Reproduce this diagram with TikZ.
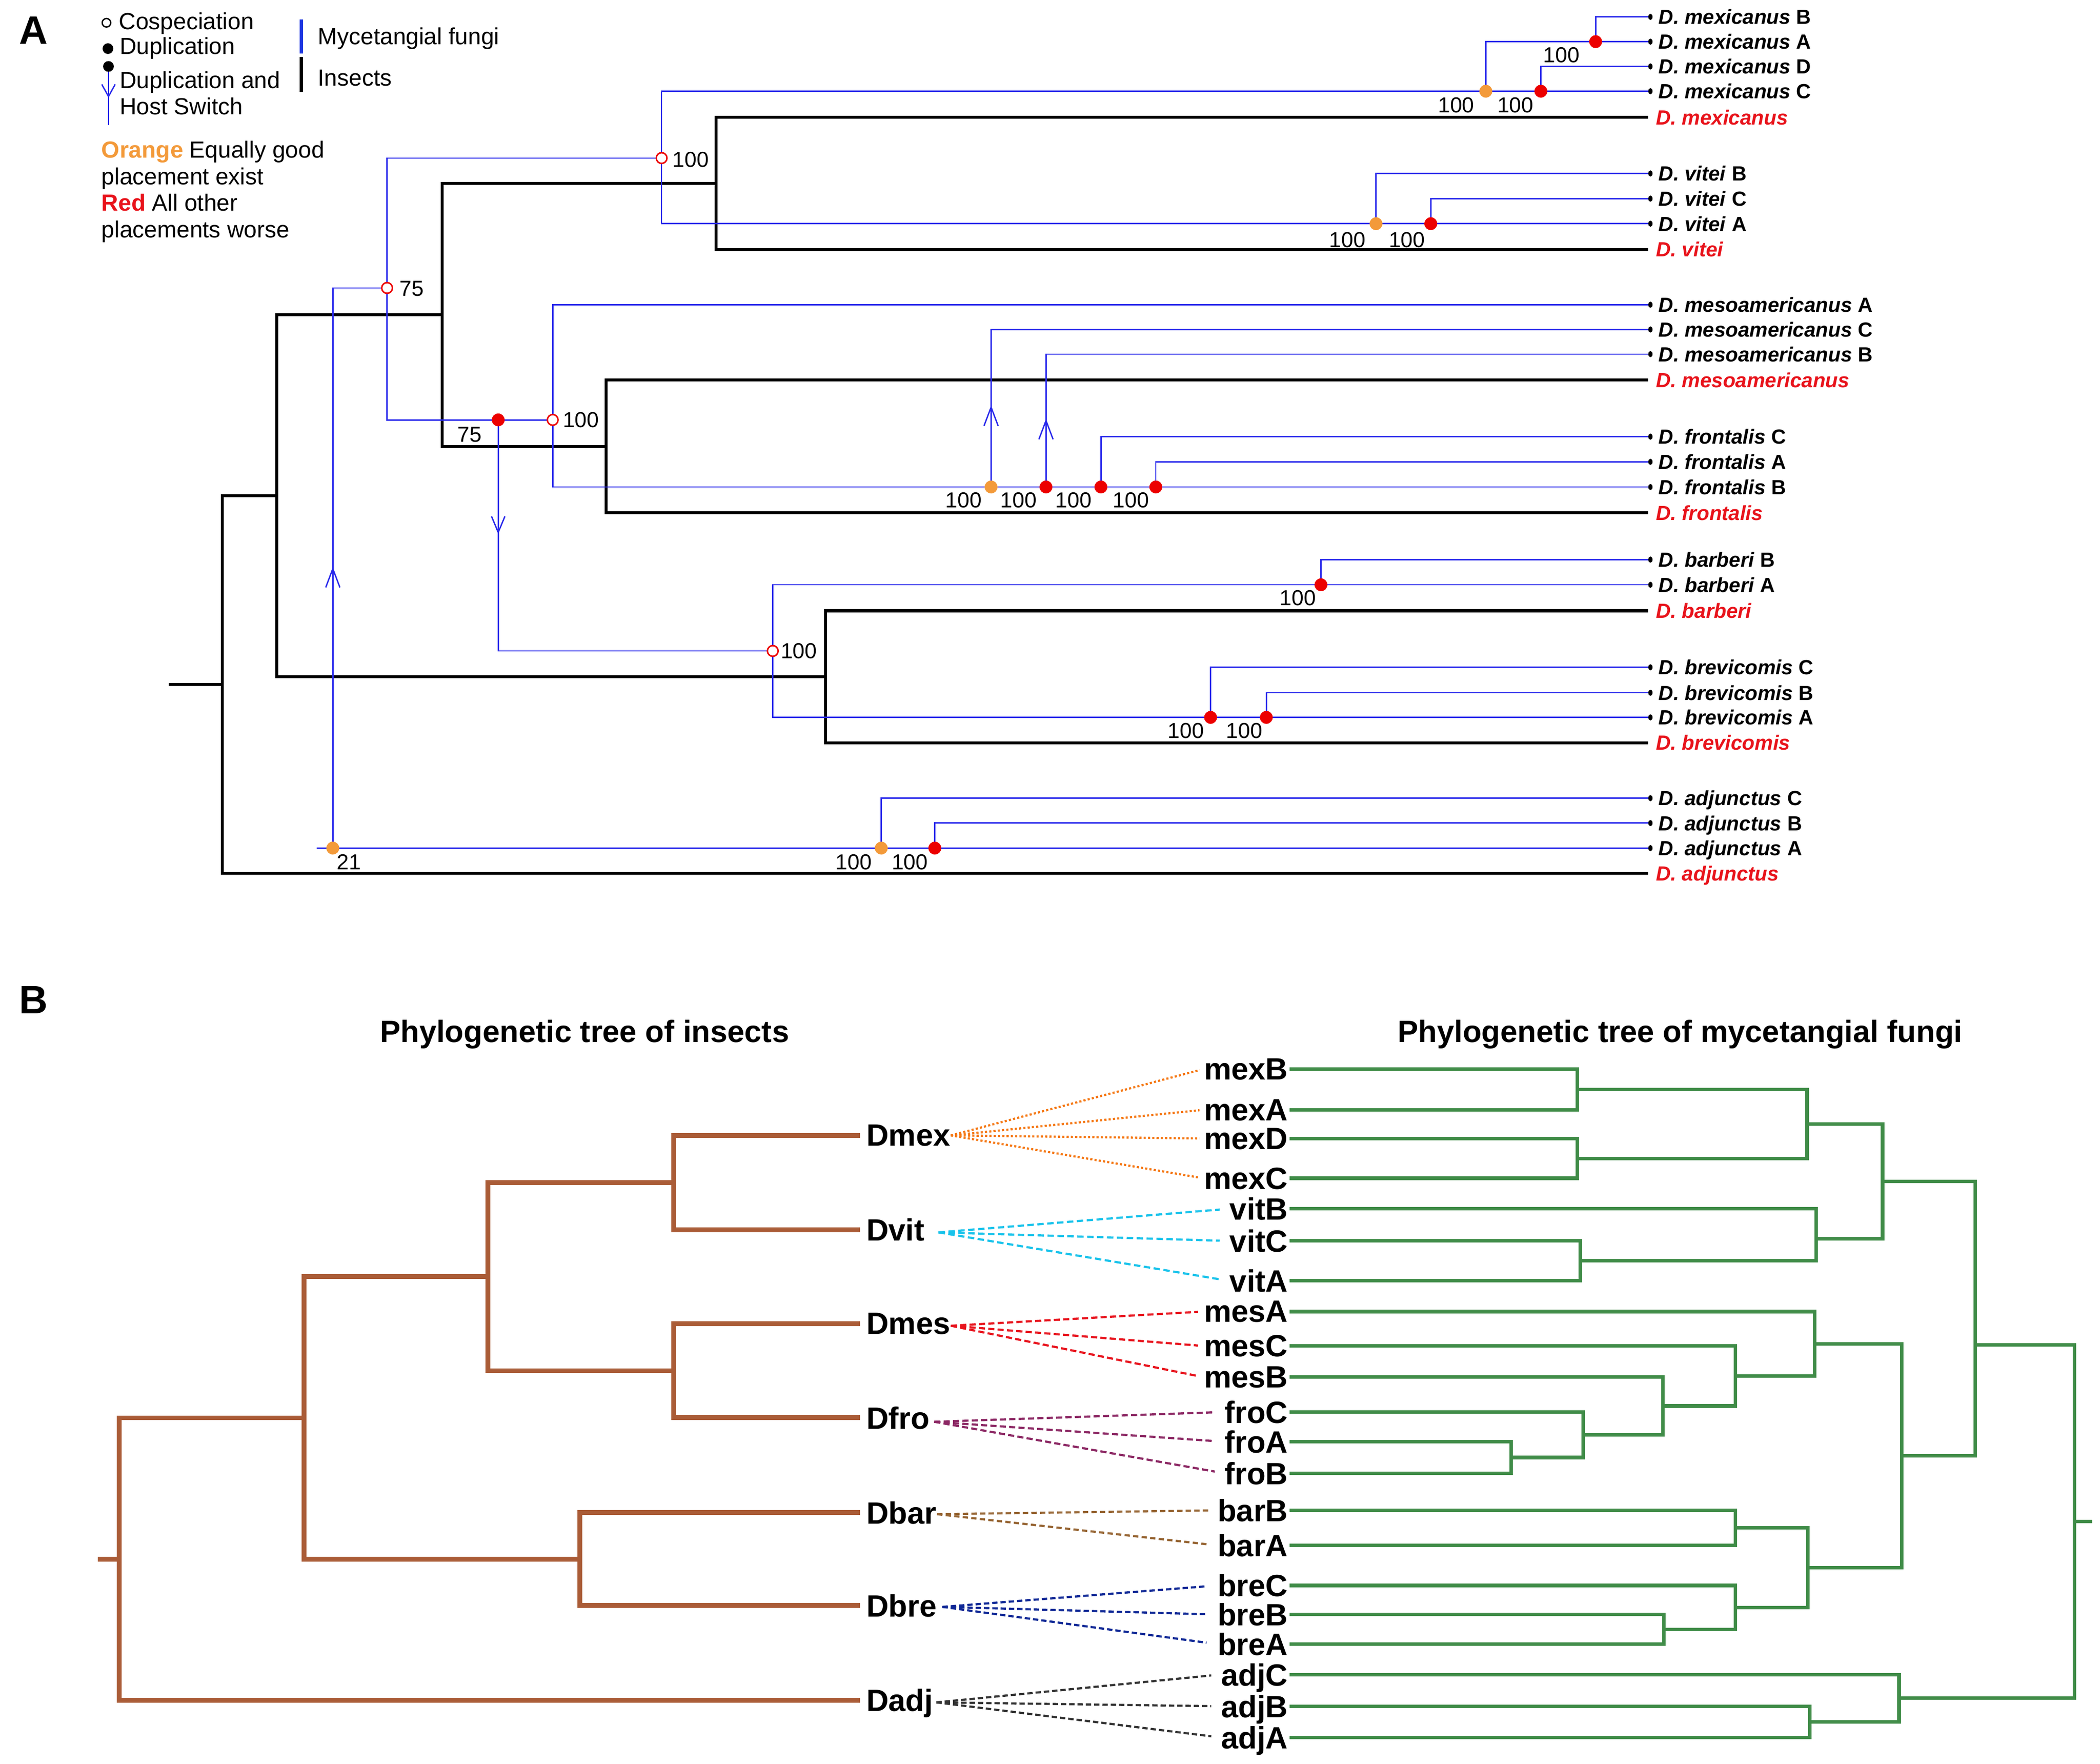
\documentclass[tikz,border=0pt]{standalone}
\usepackage{fontspec}
\setmainfont{Liberation Sans}
\usetikzlibrary{shapes.geometric}
\definecolor{funblue}{RGB}{40,40,235}
\definecolor{legblue}{RGB}{30,55,225}
\definecolor{dotred}{RGB}{236,0,0}
\definecolor{dotorange}{RGB}{243,154,58}
\definecolor{txtred}{RGB}{232,19,27}
\definecolor{treegreen}{RGB}{64,140,72}
\definecolor{treebrown}{RGB}{170,92,55}
\definecolor{conorange}{RGB}{245,120,20}
\definecolor{concyan}{RGB}{25,195,235}
\definecolor{conred}{RGB}{232,20,30}
\definecolor{conpurple}{RGB}{140,40,100}
\definecolor{congold}{RGB}{150,100,50}
\definecolor{conblue}{RGB}{15,40,150}
\definecolor{congray}{RGB}{51,51,51}
\newcommand\fntLeaf{\fontsize{7.65pt}{9pt}\selectfont\bfseries}
\newcommand\fntNum{\fontsize{8.1pt}{9pt}\selectfont}
\newcommand\fntLeg{\fontsize{8.7pt}{10pt}\selectfont}
\newcommand\fntPanel{\fontsize{14.8pt}{16pt}\selectfont\bfseries}
\newcommand\fntBig{\fontsize{11.5pt}{13pt}\selectfont\bfseries}
\begin{document}
\begin{tikzpicture}[x=0.5pt,y=-0.5pt,
  ins/.style={line width=1.1pt, black},
  fun/.style={line width=0.5pt, funblue},
  cosp/.style={circle, draw=dotred, fill=white, line width=0.55pt, minimum size=4pt, inner sep=0pt},
  rdot/.style={circle, fill=dotred, minimum size=4.8pt, inner sep=0pt},
  odot/.style={circle, fill=dotorange, minimum size=4.8pt, inner sep=0pt},
  tipdot/.style={ellipse, fill=black, minimum width=1.6pt, minimum height=2.3pt, inner sep=0pt},
  num/.style={font=\fntNum, inner sep=0pt, text depth=0pt},
  fleaf/.style={anchor=west, font=\fntLeaf, inner sep=0pt, text depth=0pt},
  ileaf/.style={anchor=west, font=\fntLeaf\itshape, text=txtred, inner sep=0pt, text depth=0pt},
  leg/.style={anchor=base west, font=\fntLeg, inner sep=0pt},
  legcirc/.style={circle, draw=black, fill=white, line width=0.5pt, minimum size=3.2pt, inner sep=0pt},
  legdot/.style={circle, fill=black, minimum size=4pt, inner sep=0pt},
  panel/.style={anchor=base west, font=\fntPanel, inner sep=0pt},
  btitle/.style={font=\fntBig, inner sep=0pt, text depth=0pt},
  bil/.style={anchor=west, font=\fntBig, inner sep=0pt, text depth=0pt},
  bfl/.style={anchor=east, font=\fntBig, inner sep=0pt, text depth=0pt},
  grn/.style={line width=1.3pt, treegreen},
  brn/.style={line width=1.75pt, treebrown},
  cmex/.style={draw=conorange, line width=0.8pt, dash pattern=on 0.8pt off 0.8pt, shorten >=1.5pt},
  cvit/.style={draw=concyan, line width=0.8pt, dash pattern=on 2.4pt off 1.3pt, shorten >=3.5pt},
  cmes/.style={draw=conred, line width=0.8pt, dash pattern=on 2.3pt off 1.2pt, shorten >=2pt},
  cfro/.style={draw=conpurple, line width=0.8pt, dash pattern=on 2.3pt off 1.2pt, shorten >=3.5pt},
  cbar/.style={draw=congold, line width=0.8pt, dash pattern=on 2pt off 1.2pt, shorten >=3pt},
  cbre/.style={draw=conblue, line width=0.8pt, dash pattern=on 2pt off 1.1pt, shorten >=4pt},
  cadj/.style={draw=congray, line width=0.8pt, dash pattern=on 2pt off 1.1pt, shorten >=3.5pt},
  uparr/.pic={\draw[fun] (-5.3,14) -- (0,0) -- (5.3,14);},
  downarr/.pic={\draw[fun] (-5,-12) -- (0,0) -- (5,-12);}
]
\fill[white] (0,0) rectangle (1568,1316.66);
\useasboundingbox (0,0) rectangle (1568,1316.66);

% ================= Panel A =================
\node[panel] (pA) at (13.9,32.7) {A};
% legend
\node[legcirc] (lgc1) at (79.5,17) {};
\node[leg] (lgt1) at (88.5,21.8) {Cospeciation};
\node[legdot] (lgd1) at (80.6,36.3) {};
\node[leg] (lgt2) at (89,40.6) {Duplication};
\coordinate (lgA) at (81,50.8);
\coordinate (lgB) at (81,93.2);
\draw[fun] (lgA) -- (lgB);
\draw[fun] (76,63) -- (81,72) -- (86,63);
\node[legdot] (lgd2) at (81,49.6) {};
\node[leg] (lgt3) at (89,66) {Duplication and};
\node[leg] (lgt4) at (89,85.4) {Host Switch};
\coordinate (lbA) at (225,14.5);
\coordinate (lbB) at (225,40);
\coordinate (lbC) at (225,42.4);
\coordinate (lbD) at (225,68.5);
\draw[legblue, line width=1.3pt] (lbA) -- (lbB);
\draw[black, line width=1.3pt] (lbC) -- (lbD);
\node[leg] (lgt5) at (237,33.3) {Mycetangial fungi};
\node[leg] (lgt6) at (237,64.2) {Insects};
\node[leg] (lgt7) at (75.5,118) {\textbf{\textcolor{dotorange}{Orange}} Equally good};
\node[leg] (lgt8) at (75.5,138) {placement exist};
\node[leg] (lgt9) at (75.5,157.4) {\textbf{\textcolor{txtred}{Red}} All other};
\node[leg] (lgt10) at (75.5,177.4) {placements worse};

% insect tree (black)
\coordinate (iLmex) at (1230.6,87.6);
\coordinate (iLvit) at (1230.6,186.2);
\coordinate (iLmes) at (1230.6,283.8);
\coordinate (iLfro) at (1230.6,382.8);
\coordinate (iLbar) at (1230.6,456);
\coordinate (iLbre) at (1230.6,554.5);
\coordinate (iLadj) at (1230.6,652);
\coordinate (imv) at (534.5,136.9);
\coordinate (imf) at (452.5,333.3);
\coordinate (i30) at (330,235.1);
\coordinate (ibb) at (616.4,505.25);
\coordinate (i206) at (206.7,370.2);
\coordinate (iroot) at (166,511.1);
\coordinate (istub) at (126,511.1);
\draw[ins] (iLmex) -| (imv) |- (iLvit);
\draw[ins] (iLmes) -| (imf) |- (iLfro);
\draw[ins] (imv) -| (i30) |- (imf);
\draw[ins] (iLbar) -| (ibb) |- (iLbre);
\draw[ins] (i30) -| (i206) |- (ibb);
\draw[ins] (i206) -| (iroot) |- (iLadj);
\draw[ins] (iroot) -- (istub);

% fungal tree (blue)
\foreach \nm/\yy in {mexB/12.6, mexA/31.1, mexD/49.6, mexC/68.1, vitB/129.5, vitC/148.3, vitA/167, mesA/227.5, mesC/246, mesB/264.4, froC/326, froA/344.8, froB/363.6, barB/417.8, barA/436.6, breC/498.2, breB/517.2, breA/535.6, adjC/595.9, adjB/614.5, adjA/633.2}
  {\coordinate (fL\nm) at (1231,\yy);}
\coordinate (fStart) at (236.5,633.2);
\coordinate (fO21) at (248.5,633.2);
\coordinate (fC75) at (289,215);
\coordinate (fC100a) at (494,118);
\coordinate (fOmex) at (1109.4,68.1);
\coordinate (fRmexD) at (1150.5,68.1);
\coordinate (fRmexB) at (1191.4,31.1);
\coordinate (fOvit) at (1027.4,167);
\coordinate (fRvit) at (1068.3,167);
\coordinate (fR75) at (372,313.5);
\coordinate (fC100b) at (412.7,313.5);
\coordinate (fOmes) at (740,363.6);
\coordinate (fRmes) at (781,363.6);
\coordinate (fRfroC) at (822,363.6);
\coordinate (fRfroA) at (863,363.6);
\coordinate (fC100c) at (577,486);
\coordinate (fRbar) at (986.3,436.6);
\coordinate (fRbreC) at (903.9,535.6);
\coordinate (fRbreB) at (945.5,535.6);
\coordinate (fOadj) at (658,633.2);
\coordinate (fRadj) at (698,633.2);

\draw[fun] (fStart) -- (fLadjA);
\draw[fun] (fO21) |- (fC75);
\draw[fun] (fC100a) -| (fC75) |- (fR75) -- (fC100b);
\draw[fun] (fLmexC) -| (fC100a) |- (fLvitA);
\draw[fun] (fOmex) |- (fLmexA);
\draw[fun] (fRmexB) |- (fLmexB);
\draw[fun] (fRmexD) |- (fLmexD);
\draw[fun] (fOvit) |- (fLvitB);
\draw[fun] (fRvit) |- (fLvitC);
\draw[fun] (fLmesA) -| (fC100b) |- (fLfroB);
\draw[fun] (fOmes) |- (fLmesC);
\draw[fun] (fRmes) |- (fLmesB);
\draw[fun] (fRfroC) |- (fLfroC);
\draw[fun] (fRfroA) |- (fLfroA);
\draw[fun] (fR75) |- (fC100c);
\draw[fun] (fLbarA) -| (fC100c) |- (fLbreA);
\draw[fun] (fRbar) |- (fLbarB);
\draw[fun] (fRbreC) |- (fLbreC);
\draw[fun] (fRbreB) |- (fLbreB);
\draw[fun] (fOadj) |- (fLadjC);
\draw[fun] (fRadj) |- (fLadjB);
\pic at (248.5,424.6) {uparr};
\pic at (372,397.5) {downarr};
\pic at (740,304) {uparr};
\pic at (781,314) {uparr};

% event markers
\node[cosp] (mC75) at (fC75) {};
\node[cosp] (mC100a) at (fC100a) {};
\node[cosp] (mC100b) at (fC100b) {};
\node[cosp] (mC100c) at (fC100c) {};
\node[odot] (mO21) at (fO21) {};
\node[odot] (mOmex) at (fOmex) {};
\node[odot] (mOvit) at (fOvit) {};
\node[odot] (mOmes) at (fOmes) {};
\node[odot] (mOadj) at (fOadj) {};
\node[rdot] (mRmexD) at (fRmexD) {};
\node[rdot] (mRmexB) at (fRmexB) {};
\node[rdot] (mRvit) at (fRvit) {};
\node[rdot] (mR75) at (fR75) {};
\node[rdot] (mRmes) at (fRmes) {};
\node[rdot] (mRfroC) at (fRfroC) {};
\node[rdot] (mRfroA) at (fRfroA) {};
\node[rdot] (mRbar) at (fRbar) {};
\node[rdot] (mRbreC) at (fRbreC) {};
\node[rdot] (mRbreB) at (fRbreB) {};
\node[rdot] (mRadj) at (fRadj) {};

% support values
\node[num] (n1) at (515.8,119) {100};
\node[num] (n2) at (307.3,215.5) {75};
\node[num] (n3) at (433.8,313.5) {100};
\node[num] (n4) at (350.6,324.4) {75};
\node[num] (n5) at (596.5,486) {100};
\node[num] (n6) at (260.5,643.7) {21};
\node[num] (n7) at (637.5,643.7) {100};
\node[num] (n8) at (679.3,643.7) {100};
\node[num] (n9) at (1165.8,40.9) {100};
\node[num] (n10) at (1087.3,78.5) {100};
\node[num] (n11) at (1131.5,78.5) {100};
\node[num] (n12) at (1006,179) {100};
\node[num] (n13) at (1050.5,179) {100};
\node[num] (n14) at (719.5,373.5) {100};
\node[num] (n15) at (760.5,373.5) {100};
\node[num] (n16) at (801.5,373.5) {100};
\node[num] (n17) at (844.5,373.5) {100};
\node[num] (n18) at (969,446.5) {100};
\node[num] (n19) at (885.4,545.5) {100};
\node[num] (n20) at (929,545.5) {100};

% leaf tips and labels
\foreach \nm/\yy/\sp/\lt in {mexB/12.6/mexicanus/B, mexA/31.1/mexicanus/A, mexD/49.6/mexicanus/D, mexC/68.1/mexicanus/C, vitB/129.5/vitei/B, vitC/148.3/vitei/C, vitA/167/vitei/A, mesA/227.5/mesoamericanus/A, mesC/246/mesoamericanus/C, mesB/264.4/mesoamericanus/B, froC/326/frontalis/C, froA/344.8/frontalis/A, froB/363.6/frontalis/B, barB/417.8/barberi/B, barA/436.6/barberi/A, breC/498.2/brevicomis/C, breB/517.2/brevicomis/B, breA/535.6/brevicomis/A, adjC/595.9/adjunctus/C, adjB/614.5/adjunctus/B, adjA/633.2/adjunctus/A}
  {\node[tipdot] (fd\nm) at (1232.3,\yy) {};
   \node[fleaf] (a\nm) at (1238,\yy) {\textit{D. \sp} \lt};}
\foreach \nm/\yy/\sp in {mex/87.6/mexicanus, vit/186.2/vitei, mes/283.8/mesoamericanus, fro/382.8/frontalis, bar/456/barberi, bre/554.5/brevicomis, adj/652/adjunctus}
  {\node[ileaf] (aI\nm) at (1236,\yy) {D. \sp};}

% ================= Panel B =================
\node[panel] (pB) at (14,756.7) {B};
\node[btitle] (tit1) at (436.5,769.7) {Phylogenetic tree of insects};
\node[btitle] (tit2) at (1254.5,770) {Phylogenetic tree of mycetangial fungi};

% insect tree (brown)
\coordinate (bLmex) at (642.2,847.7);
\coordinate (bLvit) at (642.2,918.1);
\coordinate (bLmes) at (642.2,988.2);
\coordinate (bLfro) at (642.2,1058.5);
\coordinate (bLbar) at (642.2,1129.3);
\coordinate (bLbre) at (642.2,1198.7);
\coordinate (bLadj) at (642.2,1269.4);
\coordinate (bmv) at (503,882.9);
\coordinate (bmf) at (503,1023.35);
\coordinate (b4) at (364.3,953.1);
\coordinate (bbb) at (433,1164);
\coordinate (b6) at (226.9,1058.55);
\coordinate (broot) at (89,1164);
\coordinate (bstub) at (73,1164);
\draw[brn] (bLmex) -| (bmv) |- (bLvit);
\draw[brn] (bLmes) -| (bmf) |- (bLfro);
\draw[brn] (bmv) -| (b4) |- (bmf);
\draw[brn] (bLbar) -| (bbb) |- (bLbre);
\draw[brn] (b4) -| (b6) |- (bbb);
\draw[brn] (b6) -| (broot) |- (bLadj);
\draw[brn] (broot) -- (bstub);

% fungal tree (green)
\foreach \nm/\yy in {mexB/798.2, mexA/828.6, mexD/850, mexC/879.7, vitB/902.5, vitC/926.5, vitA/956.3, mesA/979.2, mesC/1004.9, mesB/1028.2, froC/1054.2, froA/1076.4, froB/1099.9, barB/1127.6, barA/1153.8, breC/1183.7, breB/1205.4, breA/1227.5, adjC/1250.2, adjB/1273.9, adjA/1297.2}
  {\coordinate (g\nm) at (963,\yy);
   \node[bfl] (b\nm) at (962,\yy) {\nm};}
\coordinate (nMexBA) at (1177.6,813.4);
\coordinate (nMexDC) at (1177.6,864.85);
\coordinate (nMex) at (1349.3,839.1);
\coordinate (nVitCA) at (1179.8,941.4);
\coordinate (nVit) at (1355.9,925);
\coordinate (nMV) at (1405.6,882);
\coordinate (nFroAB) at (1128.4,1088.15);
\coordinate (nFro) at (1182,1071.2);
\coordinate (nMesB) at (1241.5,1049.7);
\coordinate (nMesC) at (1295.6,1027.35);
\coordinate (nMes) at (1355,1003.3);
\coordinate (nBar) at (1295.8,1140.7);
\coordinate (nBreBA) at (1242.5,1216.45);
\coordinate (nBre) at (1295.8,1200.1);
\coordinate (nBB) at (1350,1170.4);
\coordinate (nMid) at (1420,1086.85);
\coordinate (nTop) at (1474.8,1004);
\coordinate (nAdjBA) at (1351.3,1285.55);
\coordinate (nAdj) at (1418,1267.9);
\coordinate (gRoot) at (1548.8,1136);
\coordinate (gStub) at (1562,1136);
\draw[grn] (gmexB) -| (nMexBA) |- (gmexA);
\draw[grn] (gmexD) -| (nMexDC) |- (gmexC);
\draw[grn] (nMexBA) -| (nMex) |- (nMexDC);
\draw[grn] (gvitC) -| (nVitCA) |- (gvitA);
\draw[grn] (gvitB) -| (nVit) |- (nVitCA);
\draw[grn] (nMex) -| (nMV) |- (nVit);
\draw[grn] (gfroA) -| (nFroAB) |- (gfroB);
\draw[grn] (gfroC) -| (nFro) |- (nFroAB);
\draw[grn] (gmesB) -| (nMesB) |- (nFro);
\draw[grn] (gmesC) -| (nMesC) |- (nMesB);
\draw[grn] (gmesA) -| (nMes) |- (nMesC);
\draw[grn] (gbarB) -| (nBar) |- (gbarA);
\draw[grn] (gbreB) -| (nBreBA) |- (gbreA);
\draw[grn] (gbreC) -| (nBre) |- (nBreBA);
\draw[grn] (nBar) -| (nBB) |- (nBre);
\draw[grn] (nMes) -| (nMid) |- (nBB);
\draw[grn] (nMV) -| (nTop) |- (nMid);
\draw[grn] (gadjB) -| (nAdjBA) |- (gadjA);
\draw[grn] (gadjC) -| (nAdj) |- (nAdjBA);
\draw[grn] (nTop) -| (gRoot) |- (nAdj);
\draw[grn] (gRoot) -- (gStub);

% insect labels
\foreach \nm/\yy in {Dmex/847.7, Dvit/918.1, Dmes/988.2, Dfro/1058.5, Dbar/1129.3, Dbre/1198.7, Dadj/1269.4}
  {\node[bil] (b\nm) at (646.5,\yy) {\nm};}

% associations
\foreach \t in {mexB,mexA,mexD,mexC} {\draw[cmex] (bDmex.east) -- (b\t.west);}
\foreach \t in {vitB,vitC,vitA} {\draw[cvit] ([xshift=5pt,yshift=-1pt]bDvit.east) -- (b\t.west);}
\foreach \t in {mesA,mesC,mesB} {\draw[cmes] ([yshift=-0.8pt]bDmes.east) -- (b\t.west);}
\foreach \t in {froC,froA,froB} {\draw[cfro] ([xshift=1.5pt,yshift=-1.5pt]bDfro.east) -- (b\t.west);}
\foreach \t in {barB,barA} {\draw[cbar] ([yshift=-0.6pt]bDbar.east) -- (b\t.west);}
\foreach \t in {breC,breB,breA} {\draw[cbre] ([xshift=2pt,yshift=-0.5pt]bDbre.east) -- (b\t.west);}
\foreach \t in {adjC,adjB,adjA} {\draw[cadj] ([xshift=1pt,yshift=-0.8pt]bDadj.east) -- (b\t.west);}
\end{tikzpicture}
\end{document}
